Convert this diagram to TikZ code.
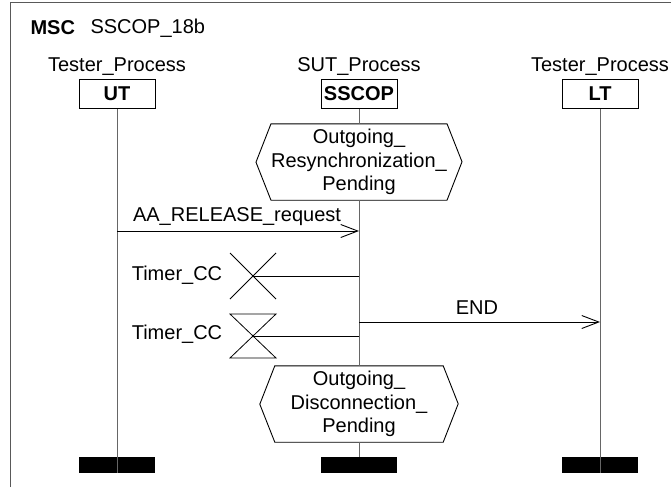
\documentclass[tikz,border=0pt]{standalone}
\usepackage{fontspec}
\setmainfont{Liberation Sans}
\usetikzlibrary{arrows.meta}

\begin{document}
\begin{tikzpicture}[x=1pt,y=-1pt,>={Straight Barb[length=17pt,width=13pt]},
    font=\fontsize{20}{23.5}\selectfont,
    inst/.style={draw,line width=0.9pt,minimum width=76pt,minimum height=29pt,inner sep=0pt,font=\fontsize{20}{24}\selectfont\bfseries},
    life/.style={draw=black!60,line width=1pt},
    msg/.style={->,line width=0.9pt},
    cond/.style={minimum width=168pt,minimum height=76pt,inner sep=0pt,align=center},
    endbar/.style={fill=black,minimum width=76pt,minimum height=16pt,inner sep=0pt}]

    \useasboundingbox (0,0) rectangle (671,487);
    \draw[black!65,line width=1pt] (10,487) -- (10,3) -- (671,3);

    \node[anchor=west,font=\fontsize{20}{24}\selectfont\bfseries] (msc) at (27,28) {MSC};
    \node[anchor=west] (mscname) at (87,28) {SSCOP\_18b};

    % instances
    \node (utproc) at (117,67) {Tester\_Process};
    \node (sutproc) at (359,67) {SUT\_Process};
    \node (ltproc) at (600,67) {Tester\_Process};
    \node[inst] (UT) at (117,94) {UT};
    \node[inst] (SSCOP) at (359,94) {SSCOP};
    \node[inst] (LT) at (600,94) {LT};

    % conditions
    \node[cond] (resync) at (359,162) {Outgoing\_\\Resynchronization\_\\Pending};
    \node[cond] (disc) at (359,404) {Outgoing\_\\Disconnection\_\\Pending};
    \draw[line width=0.9pt] (resync.north west) -- (resync.north east) -- ++(15,38)
        -- (resync.south east) -- (resync.south west) -- ++(-15,-38) -- cycle;
    \draw[line width=0.9pt] (disc.north west) -- (disc.north east) -- ++(15,38)
        -- (disc.south east) -- (disc.south west) -- ++(-15,-38) -- cycle;

    % ends
    \node[endbar] (UTend) at (117,465) {};
    \node[endbar] (SSCOPend) at (359,465) {};
    \node[endbar] (LTend) at (600,465) {};

    % lifelines
    \draw[life] (UT) -- (UTend.south);
    \draw[life] (SSCOP) -- (resync) (resync) -- (disc) (disc) -- (SSCOPend);
    \draw[life] (LT) -- (LTend.south);

    % messages
    \coordinate (relS) at (117,231);
    \coordinate (relE) at (359,231);
    \draw[msg] (relS) -- (relE);
    \node (rellabel) at (237,217) {AA\_RELEASE\_request};

    \coordinate (endS) at (359,322);
    \coordinate (endE) at (600,322);
    \draw[msg] (endS) -- (endE);
    \node (endlabel) at (477,308) {END};

    % timers
    \coordinate (tout) at (253,276);
    \coordinate (toutE) at (359,276);
    \draw[line width=0.8pt] (tout) ++(-23,-23) -- ++(46,46) ++(0,-46) -- ++(-46,46);
    \draw[line width=0.9pt] (tout) -- (toutE);
    \node (toutlabel) at (177,275) {Timer\_CC};

    \coordinate (tstop) at (253,336);
    \coordinate (tstopE) at (359,336);
    \draw[line width=0.8pt] (tstop) ++(-23,-22) -- ++(46,0) -- ++(-46,44) -- ++(46,0) -- cycle;
    \draw[line width=0.9pt] (tstop) -- (tstopE);
    \node (tstoplabel) at (177,334) {Timer\_CC};
\end{tikzpicture}
\end{document}
